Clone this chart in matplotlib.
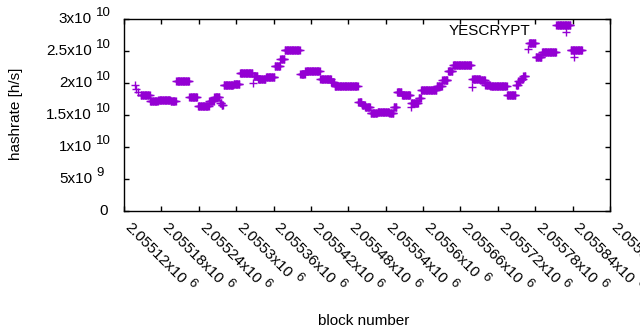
import numpy as np
import matplotlib
matplotlib.use("Agg")
import matplotlib.pyplot as plt

plt.rcParams["font.family"] = ["Liberation Sans", "DejaVu Sans"]

# runs of blocks with the same estimated hashrate (first block, last block, h/s)
run_start = [2055137, 2055140, 2055143, 2055147, 2055162, 2055175, 2055195, 2055204,
             2055225, 2055239, 2055257, 2055265, 2055274, 2055277, 2055280, 2055296,
             2055306, 2055327, 2055328, 2055335, 2055348, 2055362, 2055371, 2055378,
             2055403, 2055411, 2055435, 2055453, 2055458, 2055496, 2055502, 2055507,
             2055516, 2055527, 2055546, 2055553, 2055558, 2055566, 2055580, 2055581,
             2055593, 2055597, 2055622, 2055631, 2055640, 2055648, 2055678, 2055679,
             2055692, 2055700, 2055708, 2055735, 2055749, 2055753, 2055757, 2055761,
             2055768, 2055770, 2055781, 2055791, 2055814, 2055830, 2055837, 2055843]
run_end = [2055137, 2055140, 2055143, 2055161, 2055174, 2055194, 2055203, 2055224,
           2055237, 2055256, 2055264, 2055273, 2055276, 2055279, 2055295, 2055305,
           2055326, 2055327, 2055334, 2055347, 2055361, 2055370, 2055377, 2055402,
           2055410, 2055434, 2055452, 2055457, 2055495, 2055501, 2055506, 2055515,
           2055526, 2055545, 2055552, 2055557, 2055565, 2055579, 2055580, 2055592,
           2055596, 2055621, 2055630, 2055639, 2055647, 2055677, 2055678, 2055691,
           2055699, 2055707, 2055734, 2055748, 2055752, 2055756, 2055760, 2055764,
           2055768, 2055780, 2055790, 2055813, 2055836, 2055830, 2055855, 2055843]
run_rate = [1.97e10, 1.90e10, 1.855e10, 1.81e10, 1.72e10, 1.735e10, 1.715e10, 2.03e10,
            1.78e10, 1.636e10, 1.72e10, 1.78e10, 1.69e10, 1.66e10, 1.965e10, 1.99e10,
            2.15e10, 2.00e10, 2.11e10, 2.06e10, 2.10e10, 2.26e10, 2.37e10, 2.51e10,
            2.14e10, 2.19e10, 2.07e10, 2.02e10, 1.96e10, 1.70e10, 1.66e10, 1.62e10,
            1.53e10, 1.54e10, 1.53e10, 1.63e10, 1.86e10, 1.81e10, 1.63e10, 1.68e10,
            1.76e10, 1.89e10, 1.95e10, 2.05e10, 2.19e10, 2.28e10, 1.93e10, 2.07e10,
            2.04e10, 1.97e10, 1.953e10, 1.81e10, 1.97e10, 2.03e10, 2.07e10, 2.11e10,
            2.53e10, 2.62e10, 2.40e10, 2.49e10, 2.91e10, 2.80e10, 2.52e10, 2.41e10]

xtick_vals = [2055120, 2055180, 2055240, 2055300, 2055360, 2055420, 2055480,
              2055540, 2055600, 2055660, 2055720, 2055780, 2055840, 2055900]
xtick_text = ["2.05512", "2.05518", "2.05524", "2.0553", "2.05536", "2.05542", "2.05548",
              "2.05554", "2.0556", "2.05566", "2.05572", "2.05578", "2.05584", "2.0559"]
ytick_vals = [0, 5e9, 1e10, 1.5e10, 2e10, 2.5e10, 3e10]
ytick_main = ["0", "5x10", "1x10", "1.5x10", "2x10", "2.5x10", "3x10"]
ytick_exp = ["", "9", "10", "10", "10", "10", "10"]

blocks = []
rates = []
for s, e, r in zip(run_start, run_end, run_rate):
    for b in range(s, e + 1):
        blocks.append(b)
        rates.append(r)

FS = 11
SUP = 9.5

fig = plt.figure(figsize=(6.4, 3.3), dpi=100)
ax = fig.add_axes([124 / 640, 1 - 211 / 330, 486 / 640, 192 / 330])
ax.plot(blocks, rates, linestyle="none", marker="+", markersize=5.2,
        markeredgewidth=1, color="#9400D3")

ax.set_xlim(2055120, 2055900)
ax.set_ylim(0, 3e10)
ax.set_xticks(xtick_vals)
ax.set_xticklabels([])
ax.set_yticks(ytick_vals)
ax.set_yticklabels([])
ax.tick_params(direction="in", length=3.5, width=1, top=True, right=True,
               colors="black")
for sp in ax.spines.values():
    sp.set_linewidth(1)

# y tick labels, gnuplot style "2x10^10"
for v, m, e in zip(ytick_vals, ytick_main, ytick_exp):
    if e == "":
        ax.annotate(m, xy=(0, v), xycoords=("axes fraction", "data"),
                    xytext=(-16, 0), textcoords="offset pixels",
                    ha="right", va="center", fontsize=FS)
        continue
    ax.annotate(m, xy=(0, v), xycoords=("axes fraction", "data"),
                xytext=(-32, 0), textcoords="offset pixels",
                ha="right", va="center", fontsize=FS)
    ax.annotate(e, xy=(0, v), xycoords=("axes fraction", "data"),
                xytext=(-28, 2.5), textcoords="offset pixels",
                ha="left", va="baseline", fontsize=SUP)

# x tick labels rotated -45, with superscript exponent
renderer = fig.canvas.get_renderer()
d = np.array([1, -1]) / np.sqrt(2)
n = np.array([1, 1]) / np.sqrt(2)
start = np.array([0.0, -17.5])
for v, t in zip(xtick_vals, xtick_text):
    m = t + "x10"
    tmp = fig.text(0, 0, m, fontsize=FS)
    w = tmp.get_window_extent(renderer=renderer).width
    tmp.remove()
    ax.annotate(m, xy=(v, 0), xycoords=("data", "axes fraction"),
                xytext=tuple(start), textcoords="offset pixels",
                rotation=-45, rotation_mode="anchor", ha="left", va="baseline",
                fontsize=FS, annotation_clip=False)
    p = start + d * (w + 4) + n * 6.5
    ax.annotate("6", xy=(v, 0), xycoords=("data", "axes fraction"),
                xytext=tuple(p), textcoords="offset pixels",
                rotation=-45, rotation_mode="anchor", ha="left", va="baseline",
                fontsize=SUP, annotation_clip=False)

fig.text(364 / 640, 1 - 325 / 330, "block number", fontsize=FS,
         ha="center", va="baseline")
fig.text(16 / 640, 1 - 114 / 330, "hashrate [h/s]", fontsize=FS,
         ha="center", va="center", rotation=90)
fig.text(490 / 640, 1 - 31 / 330, "YESCRYPT", fontsize=FS,
         ha="center", va="center")

fig.savefig("out.png", dpi=100)
plt.close(fig)
